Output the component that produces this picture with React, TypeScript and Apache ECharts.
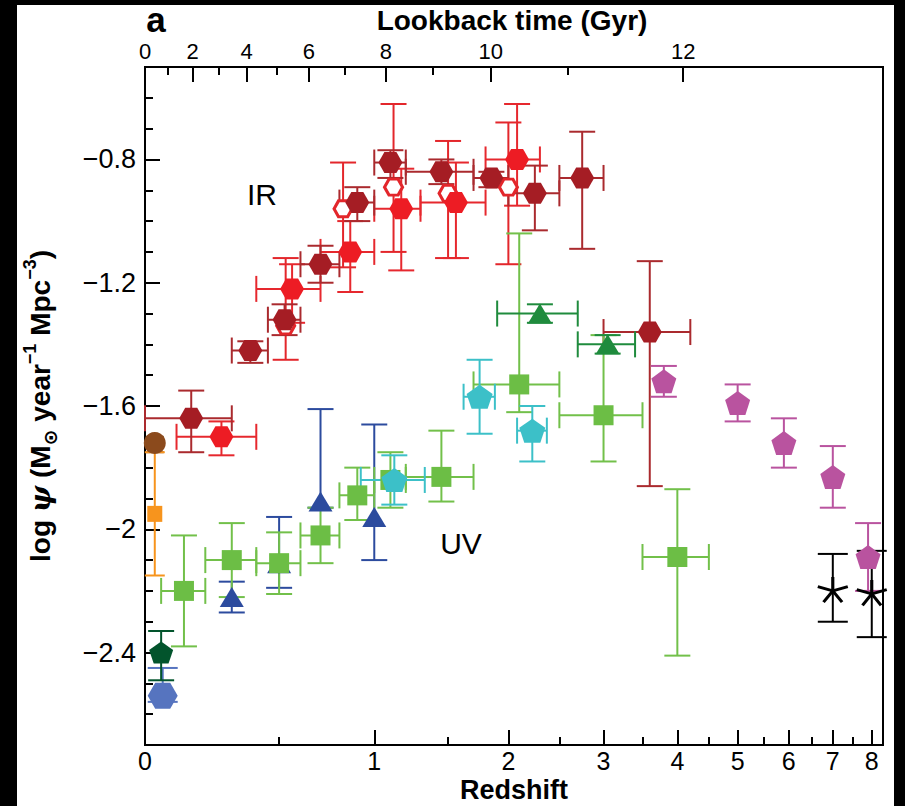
import React, { useEffect, useRef } from "react";
import * as echarts from "echarts";

// ---------- axes ----------
const XMAX = 0.969; // log10(1+z) at right frame
const redshiftMajor = [0, 1, 2, 3, 4, 5, 6, 7, 8];
const redshiftMinor = [0.5, 1.5, 2.5, 3.5, 4.5, 5.5, 6.5, 7.5];
const lookbackMajorGyr = [0, 2, 4, 6, 8, 10, 12];
const lookbackMajorZ = [0, 0.155, 0.36, 0.641, 1.071, 1.844, 4.09];
const lookbackMinorZ = [0.071, 0.251, 0.489, 0.83, 1.388, 2.594];
const psiMajor = [-2.4, -2.0, -1.6, -1.2, -0.8];
const psiMinor = [-2.7, -2.6, -2.5, -2.4, -2.3, -2.2, -2.1, -2.0, -1.9, -1.8, -1.7, -1.6, -1.5, -1.4, -1.3, -1.2, -1.1, -1.0, -0.9, -0.8, -0.7, -0.6, -0.5];

// ---------- IR data ----------
// Magnelli et al. 2011 (open red hexagons)
const m11Z = [0.53, 0.82, 1.12, 1.5, 2.0];
const m11Psi = [-1.34, -0.96, -0.89, -0.91, -0.89];
const m11Up = [0.22, 0.15, 0.27, 0.17, 0.21];
const m11Dn = [0.11, 0.19, 0.21, 0.21, 0.25];
// Magnelli et al. 2013 (red filled hexagons)
const m13Z = [0.26, 0.56, 0.86, 1.17, 1.56, 2.08];
const m13Lo = [0.1, 0.4, 0.7, 1.0, 1.3, 1.8];
const m13Hi = [0.4, 0.7, 1.0, 1.3, 1.8, 2.3];
const m13Psi = [-1.7, -1.22, -1.1, -0.96, -0.94, -0.8];
const m13Up = [0.05, 0.08, 0.1, 0.13, 0.13, 0.18];
const m13Dn = [0.06, 0.11, 0.13, 0.2, 0.18, 0.15];
// Gruppioni et al. 2013 (dark red hexagons)
const gruZ = [0.15, 0.375, 0.525, 0.7, 0.9, 1.1, 1.45, 1.85, 2.25, 2.75, 3.6];
const gruLo = [0.0, 0.3, 0.45, 0.6, 0.8, 1.0, 1.2, 1.7, 2.0, 2.5, 3.0];
const gruHi = [0.3, 0.45, 0.6, 0.8, 1.0, 1.2, 1.7, 2.0, 2.5, 3.0, 4.2];
const gruPsi = [-1.64, -1.42, -1.32, -1.14, -0.94, -0.81, -0.84, -0.86, -0.91, -0.86, -1.36];
const gruUp = [0.09, 0.03, 0.05, 0.06, 0.05, 0.04, 0.04, 0.02, 0.09, 0.15, 0.23];
const gruDn = [0.11, 0.04, 0.05, 0.06, 0.06, 0.05, 0.04, 0.03, 0.12, 0.23, 0.5];
// Sanders et al. 2003 (brown circle)
const sanZ = [0.03];
const sanPsi = [-1.72];
const sanUp = [0.02];
const sanDn = [0.03];
// Takeuchi et al. 2005 (orange square)
const takZ = [0.03];
const takPsi = [-1.95];
const takUp = [0.2];
const takDn = [0.2];

// ---------- UV data (not dust corrected) ----------
// Wyder et al. 2005
const wydZ = [0.055];
const wydPsi = [-2.54];
const wydUp = [0.09];
const wydDn = [0.02];
// Robotham & Driver 2011
const robZ = [0.05];
const robPsi = [-2.4];
const robUp = [0.07];
const robDn = [0.09];
// Schiminovich et al. 2005
const schZ = [0.3, 0.5, 0.7, 1.0];
const schPsi = [-2.22, -2.11, -1.91, -1.96];
const schUp = [0.05, 0.15, 0.3, 0.3];
const schDn = [0.05, 0.08, 0.02, 0.14];
// Cucciati et al. 2012
const cucZ = [0.125, 0.3, 0.5, 0.7, 0.9, 1.1, 1.45, 2.1, 3.0, 4.0];
const cucLo = [0.05, 0.2, 0.4, 0.6, 0.8, 1.0, 1.2, 1.7, 2.5, 3.5];
const cucHi = [0.2, 0.4, 0.6, 0.8, 1.0, 1.2, 1.7, 2.5, 3.5, 4.5];
const cucPsi = [-2.2, -2.1, -2.11, -2.02, -1.89, -1.84, -1.83, -1.53, -1.63, -2.09];
const cucUp = [0.18, 0.12, 0.1, 0.09, 0.09, 0.09, 0.15, 0.49, 0.26, 0.22];
const cucDn = [0.18, 0.12, 0.1, 0.09, 0.08, 0.09, 0.08, 0.09, 0.15, 0.32];
// Dahlen et al. 2007
const dahZ = [1.125, 1.75, 2.225];
const dahLo = [0.92, 1.62, 2.08];
const dahHi = [1.33, 1.88, 2.37];
const dahPsi = [-1.84, -1.57, -1.68];
const dahUp = [0.08, 0.12, 0.08];
const dahDn = [0.08, 0.12, 0.1];
// Reddy & Steidel 2009
const redZ = [2.3, 3.05];
const redLo = [1.9, 2.7];
const redHi = [2.7, 3.4];
const redPsi = [-1.3, -1.4];
const redUp = [0.03, 0.03];
const redDn = [0.03, 0.03];
// Bouwens et al. 2012
const bouZ = [3.8, 5.0, 5.9, 7.0, 7.9];
const bouPsi = [-1.52, -1.59, -1.72, -1.83, -2.09];
const bouUp = [0.05, 0.06, 0.08, 0.1, 0.11];
const bouDn = [0.05, 0.06, 0.08, 0.1, 0.11];
// Schenker et al. 2013
const schkZ = [7.0, 8.0];
const schkPsi = [-2.2, -2.21];
const schkUp = [0.12, 0.14];
const schkDn = [0.1, 0.14];

// ---------- symbols ----------
const HEX = "path://M0,8.66L5,0L15,0L20,8.66L15,17.32L5,17.32Z";
const PENT = "path://M50,0L97.55,34.55L79.39,90.45L20.61,90.45L2.45,34.55Z";
const STAR = "path://M10,10L10,0M10,10L19.51,6.91M10,10L15.88,18.09M10,10L4.12,18.09M10,10L0.49,6.91M10,20L10,20.01";

const lg = (z: number) => Math.log10(1 + z);

type DS = {
  zc: number[]; psi: number[]; up: number[]; dn: number[];
  zlo?: number[]; zhi?: number[];
  symbol: string; size: number | number[]; fill: string;
  stroke?: string; border?: number; bar: string; cap?: number;
};

const sets: DS[] = [
  { zc: m11Z, psi: m11Psi, up: m11Up, dn: m11Dn, symbol: HEX, size: [18, 16], fill: "#ffffff", stroke: "#e3262b", border: 3, bar: "#e3262b" },
  { zc: m13Z, psi: m13Psi, up: m13Up, dn: m13Dn, zlo: m13Lo, zhi: m13Hi, symbol: HEX, size: [24, 21], fill: "#ed1c24", bar: "#e6282e" },
  { zc: gruZ, psi: gruPsi, up: gruUp, dn: gruDn, zlo: gruLo, zhi: gruHi, symbol: HEX, size: [24, 21], fill: "#a51d24", bar: "#aa2a2e" },
  { zc: sanZ, psi: sanPsi, up: sanUp, dn: sanDn, symbol: "circle", size: 22, fill: "#8b4a1c", bar: "#8b4a1c", cap: 18 },
  { zc: takZ, psi: takPsi, up: takUp, dn: takDn, symbol: "rect", size: [15, 16], fill: "#f7941d", bar: "#f7941d", cap: 20 },
  { zc: wydZ, psi: wydPsi, up: wydUp, dn: wydDn, symbol: HEX, size: [30, 26], fill: "#5674bf", bar: "#5674bf", cap: 30 },
  { zc: robZ, psi: robPsi, up: robUp, dn: robDn, symbol: PENT, size: [24, 22], fill: "#02542c", bar: "#02542c" },
  { zc: schZ, psi: schPsi, up: schUp, dn: schDn, symbol: "triangle", size: [24, 20], fill: "#2c4b9e", bar: "#2c4b9e" },
  { zc: cucZ, psi: cucPsi, up: cucUp, dn: cucDn, zlo: cucLo, zhi: cucHi, symbol: "rect", size: 20, fill: "#6cbe45", bar: "#72c04a" },
  { zc: dahZ, psi: dahPsi, up: dahUp, dn: dahDn, zlo: dahLo, zhi: dahHi, symbol: PENT, size: [26, 24], fill: "#3cc0c8", bar: "#3cc0c8" },
  { zc: redZ, psi: redPsi, up: redUp, dn: redDn, zlo: redLo, zhi: redHi, symbol: "triangle", size: [24, 20], fill: "#1f8b3d", bar: "#1f8b3d" },
  { zc: bouZ, psi: bouPsi, up: bouUp, dn: bouDn, symbol: PENT, size: [25, 24], fill: "#b9539f", bar: "#b9539f" },
  { zc: schkZ, psi: schkPsi, up: schkUp, dn: schkDn, symbol: STAR, size: [30, 28], fill: "rgba(0,0,0,0)", stroke: "#000000", border: 3, bar: "#000000", cap: 30 },
];

const FONT = "Liberation Sans";

function buildSeries() {
  const series: any[] = [];
  sets.forEach((s) => {
    const data = s.zc.map((z, i) => [
      lg(z), s.psi[i],
      lg(s.zlo ? s.zlo[i] : z), lg(s.zhi ? s.zhi[i] : z),
      s.psi[i] - s.dn[i], s.psi[i] + s.up[i],
    ]);
    const half = (s.cap ?? 26) / 2;
    series.push({
      type: "custom",
      coordinateSystem: "cartesian2d",
      xAxisIndex: 0,
      yAxisIndex: 0,
      clip: false,
      silent: true,
      encode: { x: 0, y: 1 },
      data,
      renderItem: (_p: any, api: any) => {
        const xc = api.value(0), y = api.value(1), xl = api.value(2), xh = api.value(3), yl = api.value(4), yh = api.value(5);
        const c = api.coord([xc, y]);
        const L = api.coord([xl, y]);
        const R = api.coord([xh, y]);
        const B = api.coord([xc, yl]);
        const T = api.coord([xc, yh]);
        const st = { stroke: s.bar, lineWidth: 2 };
        const ch: any[] = [];
        const ln = (x1: number, y1: number, x2: number, y2: number) =>
          ch.push({ type: "line", shape: { x1, y1, x2, y2 }, style: st });
        if (yh !== yl) {
          ln(c[0], B[1], c[0], T[1]);
          ln(c[0] - half, B[1], c[0] + half, B[1]);
          ln(c[0] - half, T[1], c[0] + half, T[1]);
        }
        if (xh !== xl) {
          ln(L[0], c[1], R[0], c[1]);
          ln(L[0], c[1] - half, L[0], c[1] + half);
          ln(R[0], c[1] - half, R[0], c[1] + half);
        }
        return { type: "group", children: ch };
      },
    });
    series.push({
      type: "scatter",
      xAxisIndex: 0,
      yAxisIndex: 0,
      silent: true,
      symbol: s.symbol,
      symbolSize: s.size,
      symbolKeepAspect: false,
      itemStyle: {
        color: s.fill,
        opacity: 1,
        borderColor: s.stroke ?? s.fill,
        borderWidth: s.border ?? 0,
      },
      data: data.map((d) => [d[0], d[1]]),
    });
  });
  return series;
}

const tickStyle = { color: "#000", width: 2 };

function option(): any {
  const zMajorPos = redshiftMajor.map(lg);
  const zMinorPos = redshiftMinor.map(lg);
  const lbMajorPos = lookbackMajorZ.map(lg);
  const lbMinorPos = lookbackMinorZ.map(lg);
  const labelFont = { color: "#000", fontFamily: FONT };
  return {
    animation: false,
    grid: { left: 145, right: 22, top: 67, bottom: 61, show: true, borderColor: "#000", borderWidth: 2, backgroundColor: "transparent" },
    xAxis: [
      {
        type: "value", position: "bottom", min: 0, max: XMAX,
        axisLine: { show: true, lineStyle: tickStyle },
        axisTick: { show: true, inside: true, length: 15, lineStyle: tickStyle, customValues: zMajorPos },
        axisLabel: {
          show: true, customValues: zMajorPos, fontSize: 25, lineHeight: 22, margin: 5, ...labelFont,
          formatter: (v: number) => String(Math.round(Math.pow(10, v) - 1)),
        },
        splitLine: { show: false },
      },
      {
        type: "value", position: "bottom", min: 0, max: XMAX,
        axisLine: { show: false },
        axisTick: { show: true, inside: true, length: 8, lineStyle: tickStyle, customValues: zMinorPos },
        axisLabel: { show: false },
        splitLine: { show: false },
      },
      {
        type: "value", position: "top", min: 0, max: XMAX,
        axisLine: { show: true, lineStyle: tickStyle },
        axisTick: { show: true, inside: true, length: 15, lineStyle: tickStyle, customValues: lbMajorPos },
        axisLabel: {
          show: true, customValues: lbMajorPos, fontSize: 22, lineHeight: 20, margin: 6, ...labelFont,
          formatter: (v: number) => {
            let best = 0;
            lbMajorPos.forEach((p, i) => { if (Math.abs(p - v) < Math.abs(lbMajorPos[best] - v)) best = i; });
            return String(lookbackMajorGyr[best]);
          },
        },
        splitLine: { show: false },
      },
      {
        type: "value", position: "top", min: 0, max: XMAX,
        axisLine: { show: false },
        axisTick: { show: true, inside: true, length: 8, lineStyle: tickStyle, customValues: lbMinorPos },
        axisLabel: { show: false },
        splitLine: { show: false },
      },
    ],
    yAxis: [
      {
        type: "value", position: "left", min: -2.7, max: -0.5,
        axisLine: { show: true, lineStyle: tickStyle },
        axisTick: { show: true, inside: true, length: 15, lineStyle: tickStyle, customValues: psiMajor },
        axisLabel: {
          show: true, customValues: psiMajor, fontSize: 27, margin: 9, ...labelFont,
          formatter: (v: number) => (Math.abs(v + 2) < 1e-9 ? "\u22122" : "\u2212" + Math.abs(v).toFixed(1)),
        },
        splitLine: { show: false },
      },
      {
        type: "value", position: "left", min: -2.7, max: -0.5,
        axisLine: { show: false },
        axisTick: { show: true, inside: true, length: 8, lineStyle: tickStyle, customValues: psiMinor },
        axisLabel: { show: false },
        splitLine: { show: false },
      },
    ],
    graphic: [
      {
        type: "text", x: 156, y: 19.5,
        style: { text: "a", fontSize: 35, lineHeight: 26, fontWeight: "bold", fontFamily: FONT, fill: "#000", align: "center", verticalAlign: "middle" },
      },
      {
        type: "text", x: 512, y: 20,
        style: { text: "Lookback time (Gyr)", fontSize: 28, lineHeight: 22, fontWeight: "bold", fontFamily: FONT, fill: "#000", align: "center", verticalAlign: "middle" },
      },
      {
        type: "text", x: 514, y: 790,
        style: { text: "Redshift", fontSize: 27, lineHeight: 22, fontWeight: "bold", fontFamily: FONT, fill: "#000", align: "center", verticalAlign: "middle" },
      },
      {
        type: "text", x: 262, y: 194,
        style: { text: "IR", fontSize: 30, fontFamily: FONT, fill: "#000", align: "center", verticalAlign: "middle" },
      },
      {
        type: "text", x: 461, y: 543,
        style: { text: "UV", fontSize: 30, fontFamily: FONT, fill: "#000", align: "center", verticalAlign: "middle" },
      },
      {
        type: "text", x: 40, y: 406, rotation: Math.PI / 2,
        style: {
          text: "{n|log }{i|\u03c8}{n| (M}{sub|\u2299}{n| year}{sup|\u22121}{n| Mpc}{sup|\u22123}{n|)}",
          fill: "#000", align: "center", verticalAlign: "middle",
          rich: {
            n: { fontSize: 28, fontWeight: "bold", fontFamily: FONT, lineHeight: 38, fill: "#000" },
            i: { fontSize: 28, fontWeight: "bold", fontStyle: "italic", fontFamily: "DejaVu Serif", lineHeight: 38, fill: "#000" },
            sub: { fontSize: 19, fontWeight: "bold", fontFamily: "DejaVu Sans", lineHeight: 26, verticalAlign: "bottom", fill: "#000" },
            sup: { fontSize: 18, fontWeight: "bold", fontFamily: FONT, lineHeight: 20, verticalAlign: "top", fill: "#000" },
          },
        },
      },
    ],
    series: buildSeries(),
  };
}

export default function App() {
  const ref = useRef<HTMLDivElement>(null);
  useEffect(() => {
    if (!ref.current) return;
    const chart = echarts.init(ref.current, undefined, { renderer: "svg" });
    chart.setOption(option());
    return () => chart.dispose();
  }, []);
  return (
    <div style={{ position: "fixed", left: 0, top: 0, width: 905, height: 806, background: "#000", overflow: "hidden" }}>
      <div style={{ position: "absolute", left: 17, top: 5, width: 877, height: 801, background: "#fff" }} />
      <div ref={ref} style={{ position: "absolute", left: 0, top: 0, width: 905, height: 806 }} />
    </div>
  );
}
